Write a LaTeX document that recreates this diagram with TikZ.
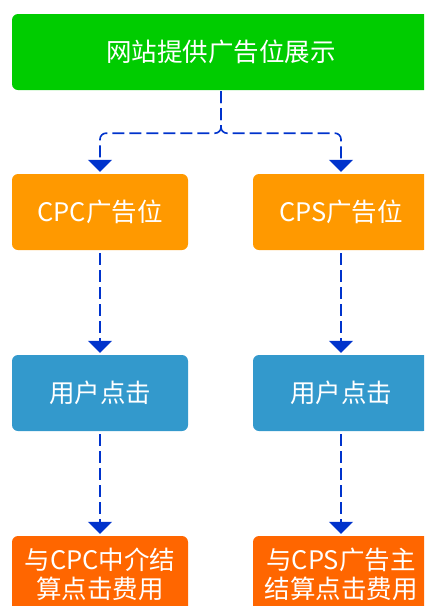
\documentclass[tikz,border=0pt]{standalone}
\usepackage{fontspec}
\setmainfont{Noto Sans CJK SC}
\usetikzlibrary{arrows.meta}
\definecolor{cgreen}{RGB}{0,204,0}
\definecolor{corange}{RGB}{255,153,0}
\definecolor{cblue}{RGB}{51,153,204}
\definecolor{cdark}{RGB}{255,102,0}
\definecolor{carrow}{RGB}{0,51,204}
\tikzset{
  box/.style={rounded corners=6pt, minimum width=176pt, minimum height=76pt, inner sep=0pt,
    text=white, font=\fontsize{25.5}{29}\selectfont, align=center},
  conn/.style={draw=carrow, line width=1.6pt, dash pattern=on 12pt off 5pt,
    -{Triangle[width=24pt,length=12pt]}, rounded corners=6pt, shorten <=3pt, shorten >=2pt},
}
\begin{document}
\begin{tikzpicture}[x=1pt,y=-1pt]
\useasboundingbox (0,0) rectangle (424,606);
\begin{scope}
\clip (0,0) rectangle (424,606);
\node[box, fill=cgreen, minimum width=418pt] (top) at (221,52) {网站提供广告位展示};
\node[box, fill=corange] (cpc) at (100,212) {CPC广告位};
\node[box, fill=corange] (cps) at (341,212) {CPS广告位};
\node[box, fill=cblue] (c1) at (100,393) {用户点击};
\node[box, fill=cblue] (c2) at (341,393) {用户点击};
\node[box, fill=cdark] (f1) at (100,574) {与CPC中介结\\算点击费用};
\node[box, fill=cdark] (f2) at (341,574) {与CPS广告主\\结算点击费用};
\draw[conn, shorten <=1pt] (top.south) -- ++(0,43) -| (cpc.north);
\draw[conn, shorten <=1pt] (top.south) -- ++(0,43) -| (cps.north);
\draw[conn] (cpc) -- (c1);
\draw[conn] (cps) -- (c2);
\draw[conn] (c1) -- (f1);
\draw[conn] (c2) -- (f2);
\end{scope}
\end{tikzpicture}
\end{document}
